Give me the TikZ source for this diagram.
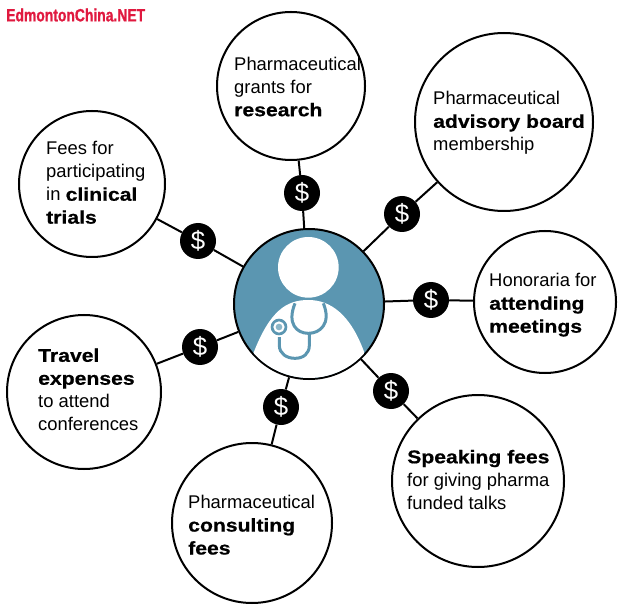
\documentclass[tikz,border=0pt]{standalone}
\usepackage{fontspec}
\setmainfont{Liberation Sans}
\newfontfamily\heavyfont[FakeStretch=1.15,FakeBold=0.7]{Liberation Sans}
\newfontfamily\markfont[FakeStretch=0.78,FakeBold=1]{Liberation Sans}
\definecolor{docblue}{HTML}{5B96B1}
\definecolor{markred}{HTML}{E0193F}
\newcommand{\hv}[1]{{\heavyfont\bfseries #1}}
\tikzset{
  topic/.style={draw,circle,line width=0.06cm,inner sep=0pt,fill=white},
  blurb/.style={anchor=west,align=left,inner sep=0pt,font=\fontsize{15.7}{19.6}\selectfont},
  fee/.style={circle,fill=black,text=white,minimum size=1.08cm,inner sep=0pt,font=\fontsize{22}{22}\selectfont},
  link/.style={line width=0.06cm},
  tube/.style={draw=docblue,line width=0.09cm}
}
\begin{document}
\begin{tikzpicture}
      \useasboundingbox (0,0) rectangle (18.6,18.21);
      \node[anchor=west,inner sep=0pt,text=markred,font=\fontsize{15.2}{15.2}\selectfont\markfont\bfseries] (mark) at (0.18,17.76) {EdmontonChina.NET};

      \node[topic,fill=docblue,minimum size=4.5cm] (doc) at (9.27,9.09) {};
      \begin{scope}
        \clip (doc.center) circle (2.22);
        \fill[white] (7.6,7.61) .. controls (8.1,8.9) and (8.6,9.21) .. (9.25,9.21) .. controls (9.9,9.21) and (10.5,8.8) .. (10.92,7.66) -- (10.92,6) -- (7.6,6) -- cycle;
      \end{scope}
      \fill[white] (9.25,10.19) circle (0.91);
      \draw[tube] (8.85,9.11) .. controls (8.6,8.5) and (8.9,8.21) .. (9.25,8.21) .. controls (9.6,8.21) and (9.95,8.5) .. (9.70,9.11);
      \draw[tube] (9.28,8.21) -- (9.28,7.85) .. controls (9.28,7.6) and (9.1,7.46) .. (8.85,7.46) .. controls (8.6,7.46) and (8.38,7.6) .. (8.38,7.85) -- (8.38,8.1);
      \fill[docblue] (8.37,8.4) circle (0.25);
      \fill[white] (8.37,8.4) circle (0.17);
      \fill[docblue!70] (8.37,8.4) circle (0.1);

      \node[topic,minimum size=4.44cm] (research) at (8.73,15.63) {};
      \node[topic,minimum size=5.34cm] (advisory) at (15.12,14.55) {};
      \node[topic,minimum size=4.26cm] (honoraria) at (16.35,9.15) {};
      \node[topic,minimum size=5.16cm] (speaking) at (14.34,3.78) {};
      \node[topic,minimum size=4.8cm] (consulting) at (7.56,2.52) {};
      \node[topic,minimum size=4.62cm] (travel) at (2.52,6.45) {};
      \node[topic,minimum size=4.38cm] (trials) at (2.76,12.69) {};

      \node[blurb] (researchtxt) at (7.02,15.61) {Pharmaceutical\\grants for\\\hv{research}};
      \node[blurb] (advisorytxt) at (12.99,14.52) {Pharmaceutical\\\hv{advisory board}\\membership};
      \node[blurb] (honorariatxt) at (14.67,9.06) {Honoraria for\\\hv{attending}\\\hv{meetings}};
      \node[blurb] (speakingtxt) at (12.21,3.82) {\hv{Speaking fees}\\for giving pharma\\funded talks};
      \node[blurb] (consultingtxt) at (5.64,2.46) {Pharmaceutical\\\hv{consulting}\\\hv{fees}};
      \node[blurb] (traveltxt) at (1.14,6.52) {\hv{Travel}\\\hv{expenses}\\to attend\\conferences};
      \node[blurb] (trialstxt) at (1.38,12.73) {Fees for\\participating\\in \hv{clinical}\\\hv{trials}};

      \node[fee] (feeresearch) at (9.06,12.42) {\$};
      \node[fee] (feeadvisory) at (12.06,11.79) {\$};
      \node[fee] (feehonoraria) at (12.93,9.21) {\$};
      \node[fee] (feespeaking) at (11.73,6.48) {\$};
      \node[fee] (feeconsulting) at (8.43,6.0) {\$};
      \node[fee] (feetravel) at (6.0,7.8) {\$};
      \node[fee] (feetrials) at (5.94,10.98) {\$};

      \draw[link] (doc) -- (feeresearch) -- (research);
      \draw[link] (doc) -- (feeadvisory) -- (advisory);
      \draw[link] (doc) -- (feehonoraria) -- (honoraria);
      \draw[link] (doc) -- (feespeaking) -- (speaking);
      \draw[link] (doc) -- (feeconsulting) -- (consulting);
      \draw[link] (doc) -- (feetravel) -- (travel);
      \draw[link] (doc) -- (feetrials) -- (trials);
    \end{tikzpicture}
\end{document}
